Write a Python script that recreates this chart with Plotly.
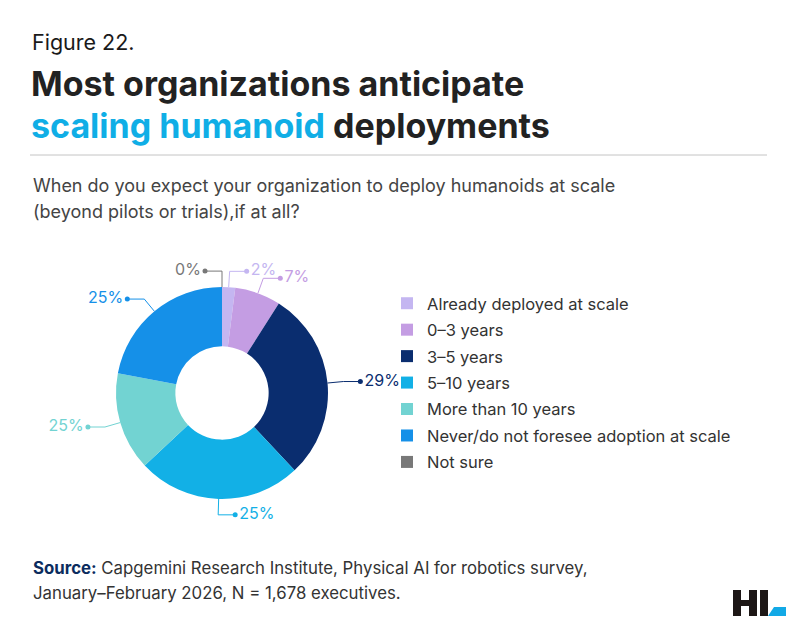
import math
import plotly.graph_objects as go

# survey answers (share of respondents, %)
categories = [
    "Already deployed at scale",
    "0–3 years",
    "3–5 years",
    "5–10 years",
    "More than 10 years",
    "Never/do not foresee adoption at scale",
    "Not sure",
]
shares = [2, 7, 29, 25, 15, 22, 0]
# labels as printed on the chart
share_labels = ["2%", "7%", "29%", "25%", "25%", "25%", "0%"]
colors = ["#c4b6f1", "#c49de3", "#0a2d6f", "#12b0e6", "#72d3d2", "#1590e8", "#787878"]

W, H = 800, 640
OFF = 8                     # page body margin, so axis units == screen px
CX, CY, R = 222, 393, 106   # donut centre / radius in screen px
FONT = "Inter"

fig = go.Figure()

fig.add_trace(go.Pie(
    labels=categories,
    values=shares,
    marker=dict(colors=colors, line=dict(width=0)),
    hole=0.44,
    sort=False,
    direction="clockwise",
    textinfo="none",
    hoverinfo="label+percent",
    showlegend=False,
    domain=dict(x=[(CX - R - OFF) / W, (CX + R - OFF) / W],
                y=[1 - (CY + R - OFF) / H, 1 - (CY - R - OFF) / H]),
))

# leader lines + outside labels
total = sum(shares)
cum = 0
for cat, v, lab, col in zip(categories, shares, share_labels, colors):
    mid = (cum + v / 2) / total * 360
    cum += v
    a = math.radians(mid)
    side = 1 if mid < 190 else -1
    x0, y0 = CX + R * math.sin(a), CY - R * math.cos(a)
    x1, y1 = CX + R * 1.15 * math.sin(a), CY - R * 1.15 * math.cos(a)
    x2 = x1 + side * 17
    fig.add_trace(go.Scatter(
        x=[x0, x1, x2], y=[y0, y1, y1], mode="lines",
        line=dict(color=col, width=1), hoverinfo="skip", showlegend=False,
    ))
    fig.add_trace(go.Scatter(
        x=[x2], y=[y1], mode="markers+text", text=[lab],
        textposition="middle right" if side > 0 else "middle left",
        textfont=dict(family=FONT, size=16, color=col),
        marker=dict(color=col, size=5), hoverinfo="skip", showlegend=False,
    ))

# legend entries (one group each so the gap can be set)
for i, (cat, col) in enumerate(zip(categories, colors)):
    fig.add_trace(go.Scatter(
        x=[None], y=[None], mode="markers", name=cat, legendgroup=str(i),
        marker=dict(symbol="square", size=12, color=col),
    ))

ann = [
    dict(x=30, y=42, text="Figure 22.", font=dict(size=21.5, color="#1a1a1a")),
    dict(x=29, y=83, text="Most organizations anticipate",
         font=dict(size=34, color="#222222", weight=700)),
    dict(x=29, y=125,
         text="<span style='color:#10aee6'>scaling humanoid</span> deployments",
         font=dict(size=34, color="#222222", weight=700)),
    dict(x=31, y=185,
         text="When do you expect your organization to deploy humanoids at scale",
         font=dict(size=18, color="#444444")),
    dict(x=31, y=211, text="(beyond pilots or trials),if at all?",
         font=dict(size=18, color="#444444")),
    dict(x=31, y=568,
         text="<span style='color:#0b2c5e'><b>Source:</b></span> Capgemini Research Institute, "
              "Physical AI for robotics survey,",
         font=dict(size=16.8, color="#333333")),
    dict(x=31, y=593, text="January–February 2026, N = 1,678 executives.",
         font=dict(size=16.8, color="#333333")),
]
for a_ in ann:
    a_.update(xref="x", yref="y", xanchor="left", yanchor="middle", showarrow=False)
    a_["font"].setdefault("family", FONT)

shapes = [
    dict(type="line", x0=30, x1=767, y0=155, y1=155, line=dict(color="#c4c4c4", width=1)),
    # logo
    dict(type="rect", x0=733, x1=741, y0=590, y1=616, fillcolor="#1d1716", line_width=0),
    dict(type="rect", x0=749, x1=757, y0=590, y1=616, fillcolor="#1d1716", line_width=0),
    dict(type="rect", x0=741, x1=749, y0=600, y1=606, fillcolor="#1d1716", line_width=0),
    dict(type="rect", x0=760, x1=768, y0=590, y1=616, fillcolor="#1d1716", line_width=0),
    dict(type="path", path="M 768 616 L 786 616 L 786 607 L 774 607 Z",
         fillcolor="#12a9e6", line_width=0),
]
for s in shapes:
    s.update(xref="x", yref="y")

fig.update_layout(
    width=W, height=H,
    margin=dict(l=0, r=0, t=0, b=0),
    paper_bgcolor="white", plot_bgcolor="white",
    font=dict(family=FONT),
    xaxis=dict(range=[OFF, W + OFF], visible=False, fixedrange=True),
    yaxis=dict(range=[H + OFF, OFF], visible=False, fixedrange=True),
    legend=dict(x=(387 - OFF) / W, y=1 - (286 - OFF) / H, xanchor="left", yanchor="top",
                font=dict(family=FONT, size=16.5, color="#333333"),
                tracegroupgap=2, bgcolor="rgba(0,0,0,0)"),
    annotations=ann,
    shapes=shapes,
)

fig.write_html("out.html")
